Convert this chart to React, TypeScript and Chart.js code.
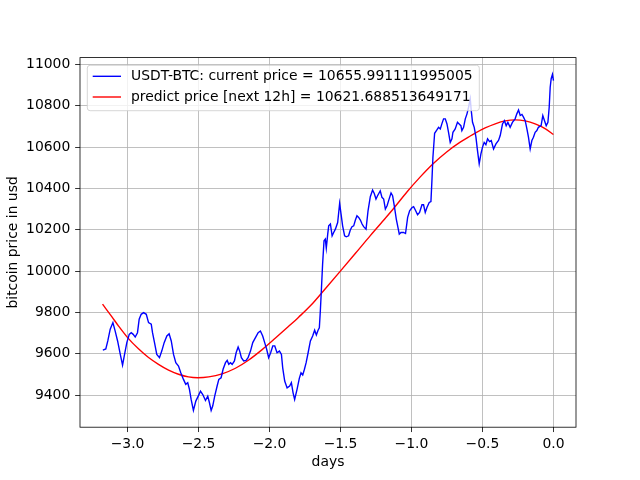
import React, { useEffect, useRef } from 'react';
import { Chart, registerables } from 'chart.js';

Chart.register(...registerables);

const FONT = "'DejaVu Sans', 'Liberation Sans', sans-serif";
const FONT_SIZE = 13.9;

const blueLabel = 'USDT-BTC: current price = 10655.991111995005';
const redLabel = 'predict price [next 12h] = 10621.688513649171';
const xTitle = 'days';
const yTitle = 'bitcoin price in usd';

const xTicks = [-3, -2.5, -2, -1.5, -1, -0.5, 0];
const yTicks = [9400, 9600, 9800, 10000, 10200, 10400, 10600, 10800, 11000];

const blueDays = [
  -3.174, -3.153, -3.139, -3.122, -3.103, -3.087, -3.07, -3.051, -3.035, -3.021,
  -3.005, -2.988, -2.974, -2.96, -2.946, -2.93, -2.918, -2.904, -2.887, -2.868,
  -2.852, -2.833, -2.824, -2.81, -2.794, -2.775, -2.759, -2.742, -2.723, -2.707,
  -2.692, -2.676, -2.66, -2.641, -2.625, -2.606, -2.59, -2.576, -2.564, -2.552,
  -2.536, -2.519, -2.502, -2.486, -2.47, -2.451, -2.435, -2.423, -2.411, -2.4,
  -2.386, -2.369, -2.357, -2.341, -2.327, -2.31, -2.298, -2.287, -2.275, -2.263,
  -2.247, -2.235, -2.221, -2.21, -2.198, -2.182, -2.165, -2.151, -2.134, -2.118,
  -2.099, -2.08, -2.064, -2.048, -2.034, -2.02, -2.006, -1.992, -1.977, -1.963,
  -1.947, -1.93, -1.916, -1.907, -1.893, -1.876, -1.858, -1.846, -1.834, -1.823,
  -1.806, -1.79, -1.778, -1.766, -1.754, -1.742, -1.728, -1.712, -1.696, -1.682,
  -1.67, -1.658, -1.649, -1.642, -1.635, -1.626, -1.616, -1.607, -1.6, -1.59,
  -1.583, -1.571, -1.559, -1.548, -1.536, -1.52, -1.506, -1.496, -1.485, -1.471,
  -1.459, -1.443, -1.431, -1.419, -1.407, -1.395, -1.384, -1.372, -1.36, -1.348,
  -1.337, -1.32, -1.306, -1.29, -1.274, -1.262, -1.25, -1.239, -1.22, -1.208,
  -1.196, -1.184, -1.172, -1.161, -1.144, -1.133, -1.121, -1.107, -1.095, -1.086,
  -1.074, -1.056, -1.042, -1.027, -1.013, -0.996, -0.985, -0.973, -0.957, -0.943,
  -0.926, -0.915, -0.903, -0.891, -0.875, -0.863, -0.856, -0.849, -0.837, -0.821,
  -0.809, -0.797, -0.785, -0.774, -0.762, -0.75, -0.739, -0.727, -0.715, -0.708,
  -0.692, -0.676, -0.664, -0.652, -0.645, -0.633, -0.621, -0.609, -0.598, -0.586,
  -0.579, -0.57, -0.558, -0.546, -0.535, -0.523, -0.511, -0.5, -0.488, -0.476,
  -0.464, -0.45, -0.438, -0.422, -0.405, -0.387, -0.375, -0.359, -0.345, -0.333,
  -0.321, -0.305, -0.289, -0.27, -0.258, -0.246, -0.234, -0.222, -0.211, -0.199,
  -0.187, -0.176, -0.164, -0.152, -0.141, -0.129, -0.117, -0.106, -0.087, -0.075,
  -0.063, -0.051, -0.039, -0.03, -0.023, -0.016, -0.007, 0.0,
];

const bluePrices = [
  9618, 9623, 9662, 9719, 9751, 9710, 9662, 9597, 9545, 9597,
  9654, 9694, 9702, 9694, 9681, 9702, 9767, 9791, 9799, 9791,
  9751, 9743, 9702, 9654, 9597, 9581, 9613, 9654, 9686, 9697,
  9662, 9597, 9557, 9541, 9508, 9476, 9452, 9460, 9428, 9379,
  9326, 9371, 9395, 9419, 9403, 9374, 9395, 9363, 9326, 9347,
  9395, 9444, 9476, 9484, 9525, 9557, 9568, 9549, 9557, 9549,
  9565, 9605, 9633, 9613, 9581, 9565, 9568, 9581, 9613, 9654,
  9678, 9702, 9710, 9686, 9654, 9622, 9581, 9605, 9638, 9638,
  9605, 9613, 9597, 9532, 9468, 9435, 9444, 9460, 9411, 9379,
  9428, 9481, 9508, 9497, 9525, 9557, 9605, 9662, 9686, 9714,
  9691, 9714, 9726, 9807, 9904, 10034, 10147, 10155, 10111, 10179,
  10219, 10228, 10171, 10187, 10203, 10235, 10328, 10276, 10219, 10171,
  10166, 10171, 10199, 10215, 10219, 10247, 10268, 10260, 10247, 10228,
  10215, 10203, 10292, 10360, 10392, 10376, 10349, 10365, 10388, 10357,
  10349, 10300, 10316, 10341, 10378, 10365, 10316, 10252, 10211, 10179,
  10187, 10187, 10182, 10260, 10292, 10308, 10312, 10296, 10273, 10284,
  10321, 10321, 10284, 10308, 10332, 10337, 10438, 10551, 10667, 10683,
  10696, 10688, 10715, 10737, 10737, 10712, 10672, 10623, 10640, 10672,
  10688, 10720, 10712, 10704, 10680, 10696, 10737, 10761, 10793, 10834,
  10777, 10720, 10696, 10648, 10583, 10519, 10567, 10599, 10623, 10612,
  10640, 10627, 10632, 10591, 10616, 10632, 10656, 10712, 10728, 10704,
  10720, 10696, 10720, 10737, 10761, 10780, 10753, 10758, 10745, 10728,
  10688, 10648, 10591, 10632, 10648, 10672, 10680, 10696, 10704, 10753,
  10728, 10704, 10720, 10793, 10890, 10931, 10952, 10922,
];

const redDays = [
  -3.176, -3.111, -3.063, -2.998, -2.923, -2.852, -2.782, -2.711, -2.641, -2.571,
  -2.505, -2.428, -2.334, -2.24, -2.146, -2.052, -1.958, -1.865, -1.795, -1.712,
  -1.607, -1.501, -1.396, -1.29, -1.184, -1.126, -1.032, -0.938, -0.844, -0.75,
  -0.657, -0.586, -0.551, -0.481, -0.41, -0.34, -0.27, -0.199, -0.129, -0.059, 0.0,
];

const redPrices = [
  9840, 9780, 9734, 9677, 9624, 9582, 9549, 9521, 9501, 9488,
  9484, 9488, 9503, 9530, 9570, 9620, 9676, 9733, 9777, 9832,
  9915, 10000, 10085, 10172, 10256, 10303, 10383, 10456, 10522, 10578,
  10624, 10654, 10668, 10693, 10713, 10727, 10732, 10727, 10713, 10690, 10661,
];

function limits(values: number[]) {
  const lo = Math.min(...values);
  const hi = Math.max(...values);
  const m = (hi - lo) * 0.05;
  return [lo - m, hi + m];
}

function fmtX(v: number) {
  const s = Math.abs(v).toFixed(1);
  return v < -1e-9 ? '\u2212' + s : s;
}

const frameLegendPlugin = {
  id: 'frameLegend',
  afterDatasetsDraw(chart: any) {
    const { ctx, chartArea: a } = chart;
    ctx.save();
    ctx.strokeStyle = '#000';
    ctx.lineWidth = 0.8;
    ctx.strokeRect(a.left, a.top, a.right - a.left, a.bottom - a.top);

    ctx.font = `${FONT_SIZE}px ${FONT}`;
    const items = chart.data.datasets.map((d: any) => ({ label: d.label, color: d.borderColor }));
    const textX = a.left + 51;
    let maxW = 0;
    items.forEach((it: any) => {
      maxW = Math.max(maxW, ctx.measureText(it.label).width);
    });
    const bx = a.left + 7.3;
    const by = a.top + 7.7;
    const bw = textX + maxW + 6.7 - bx;
    const bh = 45.4;
    ctx.beginPath();
    if ((ctx as any).roundRect) {
      (ctx as any).roundRect(bx, by, bw, bh, 2.8);
    } else {
      ctx.rect(bx, by, bw, bh);
    }
    ctx.fillStyle = 'rgba(255,255,255,0.8)';
    ctx.fill();
    ctx.strokeStyle = 'rgba(204,204,204,0.8)';
    ctx.lineWidth = 1;
    ctx.stroke();

    items.forEach((it: any, i: number) => {
      const y = a.top + 18.7 + i * 20.7;
      ctx.beginPath();
      ctx.strokeStyle = it.color;
      ctx.lineWidth = 1.39;
      ctx.moveTo(a.left + 12.7, y);
      ctx.lineTo(a.left + 41, y);
      ctx.stroke();
      ctx.fillStyle = '#000';
      ctx.textBaseline = 'middle';
      ctx.textAlign = 'left';
      ctx.fillText(it.label, textX, y);
    });
    ctx.restore();
  },
};

export default function App() {
  const ref = useRef<HTMLCanvasElement | null>(null);

  useEffect(() => {
    if (!ref.current) return;
    const [xMin, xMax] = limits([...blueDays, ...redDays]);
    const [yMin, yMax] = limits([...bluePrices, ...redPrices]);
    const font = { family: FONT, size: FONT_SIZE };

    const chart = new Chart(ref.current, {
      type: 'line',
      data: {
        datasets: [
          {
            label: blueLabel,
            data: blueDays.map((d, i) => ({ x: d, y: bluePrices[i] })),
            borderColor: '#0000ff',
            borderWidth: 1.39,
            pointRadius: 0,
            tension: 0,
            fill: false,
          },
          {
            label: redLabel,
            data: redDays.map((d, i) => ({ x: d, y: redPrices[i] })),
            borderColor: '#ff0000',
            borderWidth: 1.39,
            pointRadius: 0,
            cubicInterpolationMode: 'monotone',
            fill: false,
          },
        ],
      },
      options: {
        responsive: false,
        animation: false,
        events: [],
        layout: { padding: { left: 0, right: 64, top: 57.6, bottom: 0 } },
        plugins: {
          legend: { display: false },
          tooltip: { enabled: false },
        },
        scales: {
          x: {
            type: 'linear',
            min: xMin,
            max: xMax,
            afterBuildTicks: (s: any) => {
              s.ticks = xTicks.map((v) => ({ value: v }));
            },
            afterFit: (s: any) => {
              s.height = 52.8;
            },
            ticks: {
              callback: (v: any) => fmtX(Number(v)),
              color: '#000',
              font,
              padding: 3.6,
              maxRotation: 0,
              autoSkip: false,
            },
            grid: { color: '#b0b0b0', lineWidth: 0.8, tickColor: '#000', tickLength: 4.86, drawTicks: true },
            border: { display: false },
            title: { display: true, text: xTitle, color: '#000', font, padding: { top: 4, bottom: 9.6 } },
          },
          y: {
            type: 'linear',
            min: yMin,
            max: yMax,
            afterBuildTicks: (s: any) => {
              s.ticks = yTicks.map((v) => ({ value: v }));
            },
            afterFit: (s: any) => {
              s.width = 80;
            },
            ticks: {
              callback: (v: any) => String(Math.round(Number(v))),
              color: '#000',
              font,
              padding: 4.9,
              autoSkip: false,
            },
            grid: { color: '#b0b0b0', lineWidth: 0.8, tickColor: '#000', tickLength: 4.86, drawTicks: true },
            border: { display: false },
            title: { display: true, text: yTitle, color: '#000', font, padding: { top: 4.6, bottom: 4 } },
          },
        },
      },
      plugins: [frameLegendPlugin],
    } as any);
    return () => chart.destroy();
  }, []);

  return (
    <div style={{ position: 'absolute', left: 0, top: 0, width: 640, height: 480, background: '#fff' }}>
      <canvas ref={ref} width={640} height={480} />
    </div>
  );
}
